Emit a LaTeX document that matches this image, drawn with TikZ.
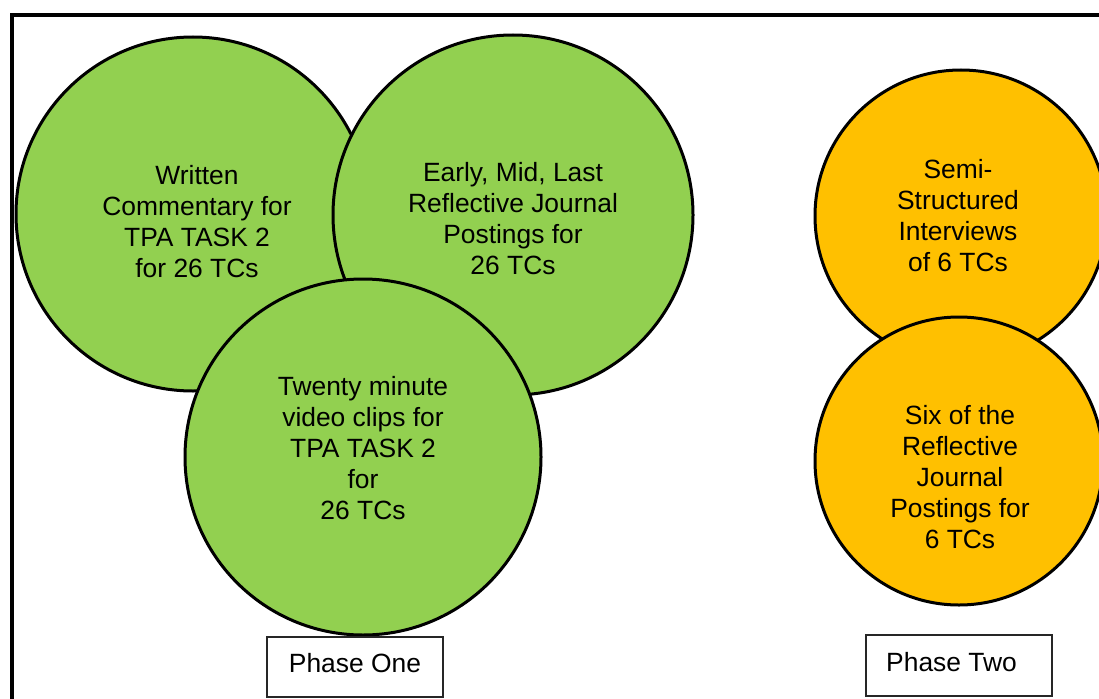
\documentclass[tikz,border=0pt]{standalone}
\usepackage{fontspec}
\setmainfont{Liberation Sans}
\definecolor{lgreen}{HTML}{92D050}
\definecolor{lorange}{HTML}{FFC000}
\begin{document}
\begin{tikzpicture}[x=1pt,y=-1pt,
  circ/.style={circle,draw=black,line width=3pt,inner sep=0pt},
  gcirc/.style={circ,fill=lgreen},
  ocirc/.style={circ,fill=lorange},
  txt/.style={align=center,inner sep=0pt,font=\fontsize{26.4}{31}\selectfont},
  phasebox/.style={draw=black!85,line width=1.5pt,fill=white,inner sep=0pt}]
\useasboundingbox (0,0) rectangle (1099,698);
\clip (0,0) rectangle (1099,698);
\fill[white] (0,0) rectangle (1099,698);
\draw[line width=4.5pt] (12,15) rectangle (1130,730);
% green circles
\node[gcirc,minimum size=354pt] (c1) at (193,214) {};
\node[gcirc,minimum size=360pt] (c2) at (513,215) {};
\node[gcirc,minimum size=356pt] (c3) at (363,457) {};
% orange circles
\node[ocirc,minimum size=292pt] (c4) at (961,216) {};
\node[ocirc,minimum size=288pt] (c5) at (959,461) {};
% texts
\node[txt] (t1) at (197,222) {Written\\Commentary for\\TPA TASK 2\\for 26 TCs};
\node[txt] (t2) at (513,219) {Early, Mid, Last\\Reflective Journal\\Postings for\\26 TCs};
\node[txt] (t3) at (363,448) {Twenty minute\\video clips for\\TPA TASK 2\\for\\26 TCs};
\node[txt] (t4) at (958,216) {Semi-\\Structured\\Interviews\\of 6 TCs};
\node[txt] (t5) at (960,477) {Six of the\\Reflective\\Journal\\Postings for\\6 TCs};
% phase boxes
\node[phasebox,minimum width=176pt,minimum height=60pt] (p1) at (355,667) {};
\node[txt] (p1t) at (355,663) {Phase One};
\node[phasebox,minimum width=186pt,minimum height=61pt] (p2) at (959,665.5) {};
\node[txt,anchor=west] (p2t) at (886,662) {Phase Two};
\end{tikzpicture}
\end{document}
